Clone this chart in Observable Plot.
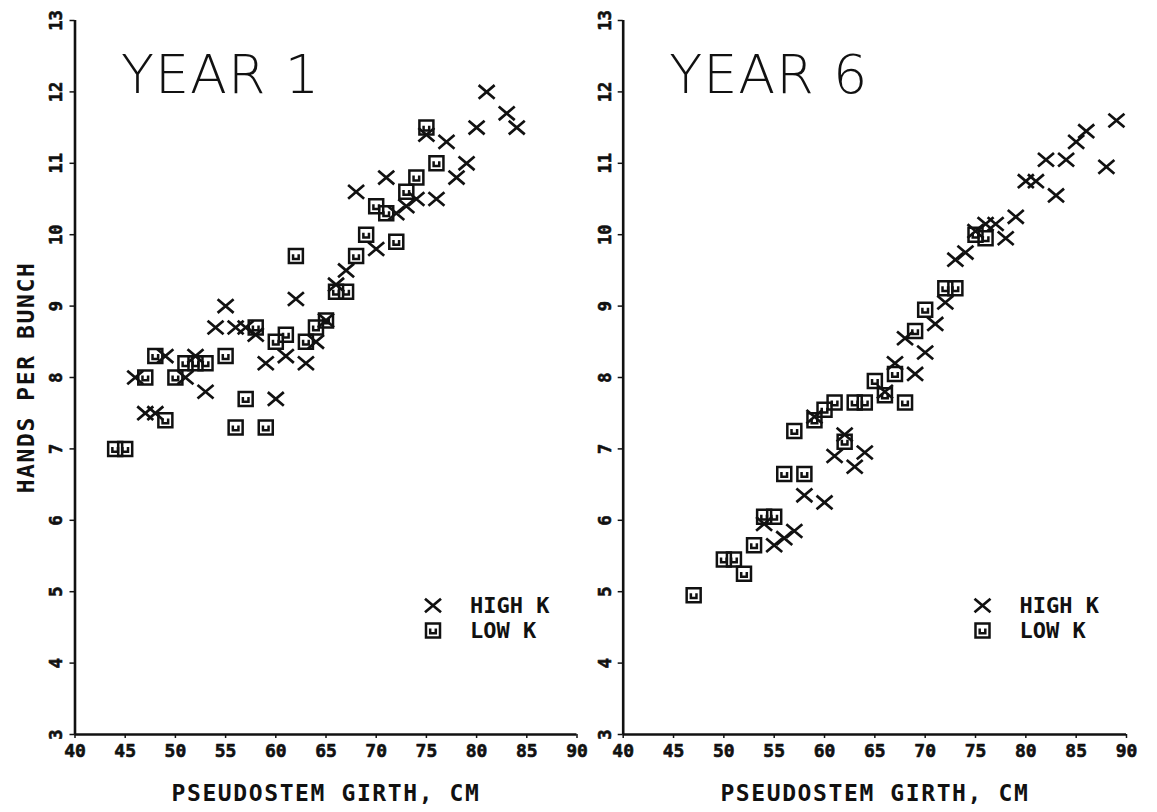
<!DOCTYPE html>
<html><head><meta charset="utf-8">
<script src="https://cdn.jsdelivr.net/npm/d3@7"></script>
<script src="https://cdn.jsdelivr.net/npm/@observablehq/plot@0.6"></script>
<style>
html,body{margin:0;padding:0;background:#fff;overflow:hidden;}
#wrap{display:flex;width:1157px;height:812px;}
#wrap svg{display:block;}
</style></head><body><div id="wrap"></div>
<script>
// ---------- labels & ticks ----------
const panelTitles = ["YEAR 1", "YEAR 6"];
const seriesNames = ["HIGH K", "LOW K"];
const xLabel = "PSEUDOSTEM GIRTH, CM";
const yLabel = "HANDS PER BUNCH";
const xTicks = [40, 45, 50, 55, 60, 65, 70, 75, 80, 85, 90];
const yTicks = [3, 4, 5, 6, 7, 8, 9, 10, 11, 12, 13];

// ---------- YEAR 1 ----------
const y1HighGirth = [46, 47, 48, 49, 51, 52, 53, 54, 55, 56, 57, 58, 59, 60, 61, 62, 63, 64, 65, 66, 67, 68, 70, 71, 72, 73, 74, 75, 76, 77, 78, 79, 80, 81, 83, 84];
const y1HighHands = [8.0, 7.5, 7.5, 8.3, 8.0, 8.3, 7.8, 8.7, 9.0, 8.7, 8.7, 8.6, 8.2, 7.7, 8.3, 9.1, 8.2, 8.5, 8.8, 9.3, 9.5, 10.6, 9.8, 10.8, 10.3, 10.4, 10.5, 11.4, 10.5, 11.3, 10.8, 11.0, 11.5, 12.0, 11.7, 11.5];
const y1LowGirth = [44, 45, 47, 48, 49, 50, 51, 52, 53, 55, 56, 57, 58, 59, 60, 61, 62, 63, 64, 65, 66, 67, 68, 69, 70, 71, 72, 73, 74, 75, 76];
const y1LowHands = [7.0, 7.0, 8.0, 8.3, 7.4, 8.0, 8.2, 8.2, 8.2, 8.3, 7.3, 7.7, 8.7, 7.3, 8.5, 8.6, 9.7, 8.5, 8.7, 8.8, 9.2, 9.2, 9.7, 10.0, 10.4, 10.3, 9.9, 10.6, 10.8, 11.5, 11.0];

// ---------- YEAR 6 ----------
const y6HighGirth = [54, 55, 56, 57, 58, 59, 60, 61, 62, 63, 64, 66, 67, 68, 69, 70, 71, 72, 73, 74, 75, 76, 77, 78, 79, 80, 81, 82, 83, 84, 85, 86, 88, 89];
const y6HighHands = [5.95, 5.65, 5.75, 5.85, 6.35, 7.45, 6.25, 6.9, 7.2, 6.75, 6.95, 7.8, 8.2, 8.55, 8.05, 8.35, 8.75, 9.05, 9.65, 9.75, 10.05, 10.15, 10.15, 9.95, 10.25, 10.75, 10.75, 11.05, 10.55, 11.05, 11.3, 11.45, 10.95, 11.6];
const y6LowGirth = [47, 50, 51, 52, 53, 54, 55, 56, 57, 58, 59, 60, 61, 62, 63, 64, 65, 66, 67, 68, 69, 70, 72, 73, 75, 76];
const y6LowHands = [4.95, 5.45, 5.45, 5.25, 5.65, 6.05, 6.05, 6.65, 7.25, 6.65, 7.4, 7.55, 7.65, 7.1, 7.65, 7.65, 7.95, 7.75, 8.05, 7.65, 8.65, 8.95, 9.25, 9.25, 10.0, 9.95];

const zip = (xs, ys) => xs.map((x, i) => ({girth: x, hands: ys[i]}));
const panels = [
  {title: panelTitles[0], high: zip(y1HighGirth, y1HighHands), low: zip(y1LowGirth, y1LowHands),
   width: 590, ml: 74.5, mr: 13.5, showYLabel: true},
  {title: panelTitles[1], high: zip(y6HighGirth, y6HighHands), low: zip(y6LowGirth, y6LowHands),
   width: 567, ml: 32.7, mr: 31, showYLabel: false}
];

// plotter-like symbols
const crossSym = {draw(ctx, size) {
  const s = Math.sqrt(size / Math.PI), h = s * 0.85;
  ctx.moveTo(-s, -h); ctx.lineTo(s, h);
  ctx.moveTo(-s, h); ctx.lineTo(s, -h);
}};
const boxSym = {draw(ctx, size) {
  const s = Math.sqrt(size / Math.PI), a = s * 0.4;
  ctx.moveTo(-s, -s); ctx.lineTo(s, -s); ctx.lineTo(s, s); ctx.lineTo(-s, s); ctx.closePath();
  ctx.moveTo(-a, -a * 0.7); ctx.lineTo(-a, a); ctx.lineTo(a, a); ctx.lineTo(a, -a * 0.7);
}};

const ink = "#111";
const wrap = document.getElementById("wrap");

panels.forEach(p => {
  const marks = [
    Plot.ruleX([40], {stroke: ink, strokeWidth: 2.6}),
    Plot.ruleY([3], {stroke: ink, strokeWidth: 2.6}),
    Plot.axisX({ticks: xTicks, tickSize: 4, tickFormat: () => "", label: null, stroke: ink, strokeWidth: 1.5}),
    Plot.axisY({ticks: yTicks, tickSize: 5, tickFormat: () => "", label: null, stroke: ink, strokeWidth: 1.5}),
    Plot.text(xTicks, {x: d => d, text: d => String(d), frameAnchor: "bottom", dy: 17, textAnchor: "middle", lineAnchor: "middle",
      fontSize: 18, fontWeight: "bold", fill: ink, stroke: ink, strokeWidth: 0.6}),
    Plot.text(yTicks, {y: d => d, text: d => String(d), frameAnchor: "left", dx: -18, rotate: -90,
      textAnchor: "middle", lineAnchor: "middle",
      fontSize: 17, fontWeight: "bold", fill: ink, stroke: ink, strokeWidth: 0.6}),
    Plot.text([xLabel], {frameAnchor: "bottom", dy: 59, textAnchor: "middle", lineAnchor: "middle", fontSize: 23, fontWeight: "bold", fill: ink}),
    Plot.text([p.title], {frameAnchor: "top-left", dx: 46, dy: 55, textAnchor: "start", lineAnchor: "middle",
      fontSize: 54, fontFamily: "DejaVu Sans", fontWeight: 200, fill: ink}),
    Plot.dot(p.low, {x: "girth", y: "hands", symbol: boxSym, r: 7, stroke: ink, strokeWidth: 2.5, fill: "none"}),
    Plot.dot(p.high, {x: "girth", y: "hands", symbol: crossSym, r: 8, stroke: ink, strokeWidth: 2.7, fill: "none"}),
    // legend
    Plot.dot([seriesNames[0]], {frameAnchor: "bottom-right", dx: -144, dy: -129, symbol: crossSym, r: 8, stroke: ink, strokeWidth: 2.7, fill: "none"}),
    Plot.dot([seriesNames[1]], {frameAnchor: "bottom-right", dx: -144, dy: -104, symbol: boxSym, r: 7, stroke: ink, strokeWidth: 2.5, fill: "none"}),
    Plot.text([seriesNames[0]], {frameAnchor: "bottom-right", dx: -107, dy: -129, textAnchor: "start", lineAnchor: "middle", fontSize: 22, fontWeight: "bold", fill: ink}),
    Plot.text([seriesNames[1]], {frameAnchor: "bottom-right", dx: -107, dy: -104, textAnchor: "start", lineAnchor: "middle", fontSize: 22, fontWeight: "bold", fill: ink})
  ];
  if (p.showYLabel) {
    marks.push(Plot.text([yLabel], {frameAnchor: "left", dx: -48, rotate: -90, textAnchor: "middle", lineAnchor: "middle",
      fontSize: 23, fontWeight: "bold", fill: ink}));
  }
  const chart = Plot.plot({
    width: p.width, height: 812,
    marginLeft: p.ml, marginRight: p.mr, marginTop: 20, marginBottom: 78,
    x: {domain: [40, 90], axis: null},
    y: {domain: [3, 13], axis: null},
    style: {fontFamily: "'DejaVu Sans Mono', monospace", color: ink, background: "#fff", overflow: "visible"},
    marks
  });
  wrap.appendChild(chart);
  d3.select(chart).selectAll("text").each(function() {
    const t = this.textContent;
    if (t === xLabel || t === yLabel) d3.select(this).attr("letter-spacing", 1.6);
    if (panelTitles.includes(t)) d3.select(this).attr("letter-spacing", 1);
  });
});
</script></body></html>
